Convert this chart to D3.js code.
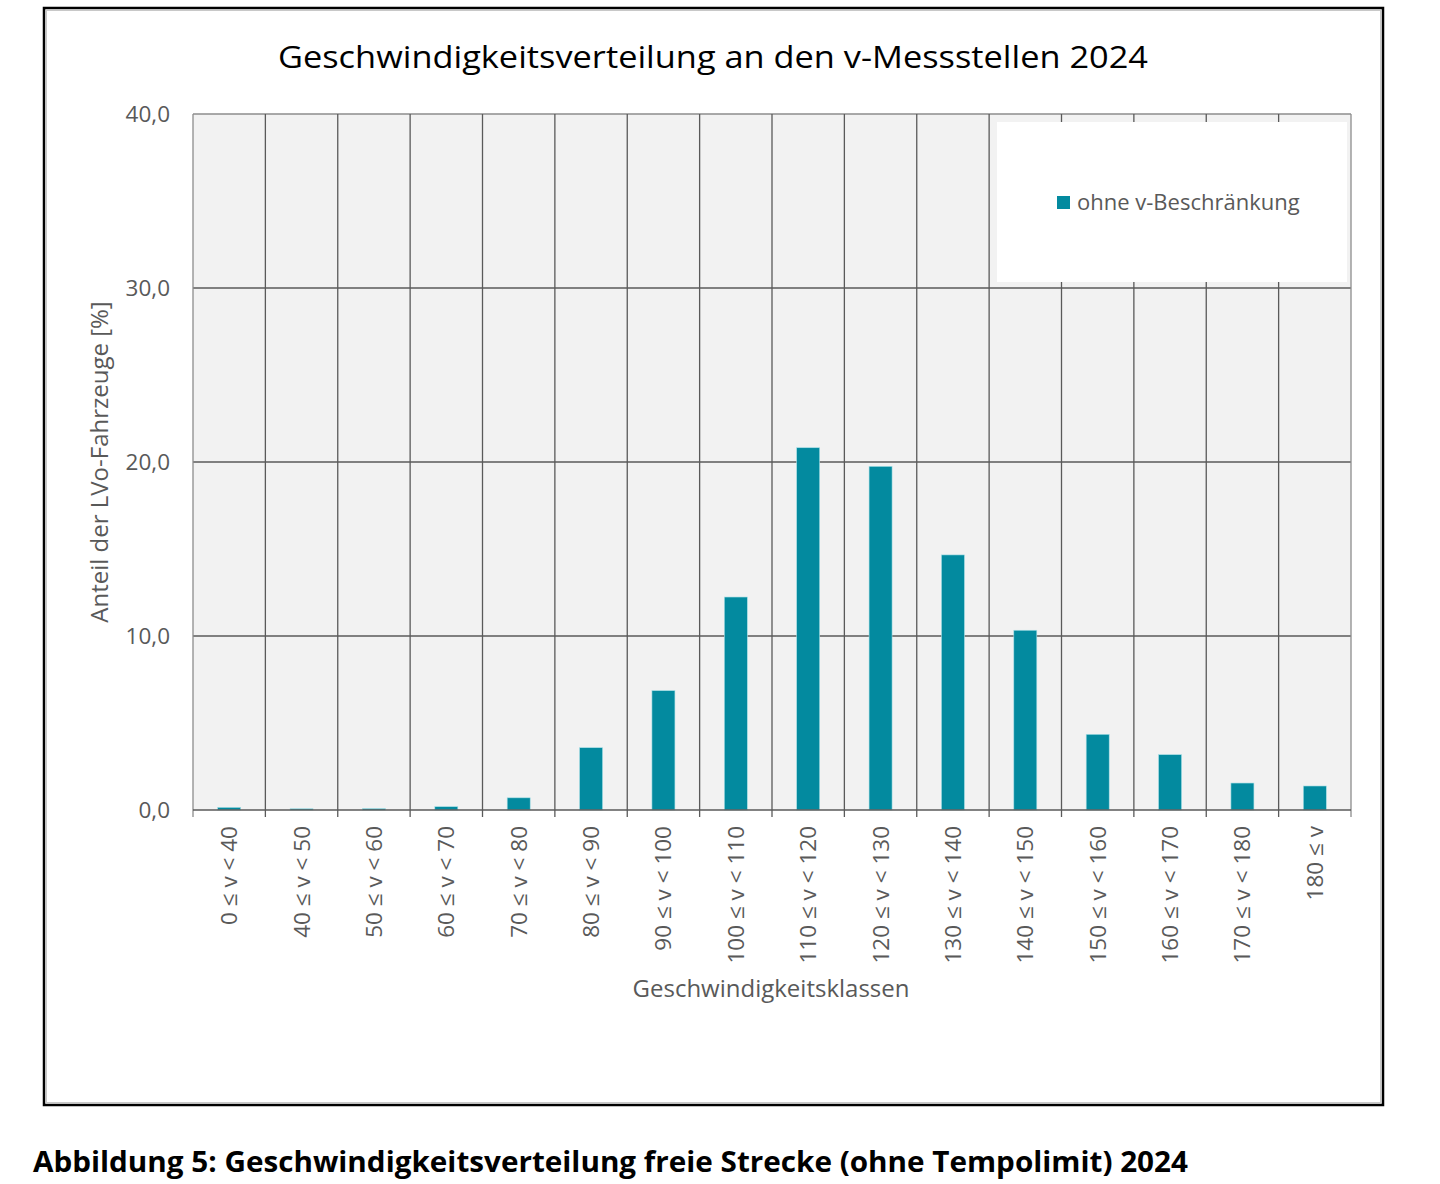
<!DOCTYPE html>
<html>
<head>
<meta charset="utf-8">
<script src="https://cdn.jsdelivr.net/npm/d3@7"></script>
<style>
  body { margin: 0; background: #fff; }
  svg { display: block; font-family: "Open Sans", "Noto Sans", sans-serif; }
</style>
</head>
<body>
<svg id="chart" width="1440" height="1184"></svg>
<script>
// classes of speed (x categories)
var categories = ["0 ≤ v < 40", "40 ≤ v < 50", "50 ≤ v < 60", "60 ≤ v < 70", "70 ≤ v < 80",
  "80 ≤ v < 90", "90 ≤ v < 100", "100 ≤ v < 110", "110 ≤ v < 120", "120 ≤ v < 130",
  "130 ≤ v < 140", "140 ≤ v < 150", "150 ≤ v < 160", "160 ≤ v < 170", "170 ≤ v < 180", "180 ≤ v"];
// share of cars in %
var shares = [0.15, 0.07, 0.08, 0.19, 0.7, 3.58, 6.86, 12.24, 20.82, 19.75, 14.66, 10.33, 4.35, 3.18, 1.55, 1.38];
var yTicks = [0, 10, 20, 30, 40];
var seriesName = "ohne v-Beschränkung";

var titleText = "Geschwindigkeitsverteilung an den v-Messstellen 2024";
var captionText = "Abbildung 5: Geschwindigkeitsverteilung freie Strecke (ohne Tempolimit) 2024";

var plot = {left: 193, right: 1351, top: 114, bottom: 810};
var barColor = "#038a9f",
    textColor = "#595959",
    gridColor = "#5a5a5a";

var svg = d3.select("#chart");

/* outer frame */
svg.append("rect")
  .attr("x", 44).attr("y", 8).attr("width", 1339).attr("height", 1097)
  .attr("fill", "#fff").attr("stroke", "#000").attr("stroke-width", 2.5);
svg.append("rect")
  .attr("x", 46.5).attr("y", 10.5).attr("width", 1334).attr("height", 1092)
  .attr("fill", "none").attr("stroke", "#c8c8c8").attr("stroke-width", 1);

var x = d3.scaleBand().domain(categories).range([plot.left, plot.right]).paddingInner(0).paddingOuter(0);
var y = d3.scaleLinear().domain([0, 40]).range([plot.bottom, plot.top]);

/* plot background */
svg.append("rect")
  .attr("x", plot.left).attr("y", plot.top)
  .attr("width", plot.right - plot.left).attr("height", plot.bottom - plot.top)
  .attr("fill", "#f2f2f2");

/* horizontal grid */
svg.append("g").selectAll("line").data(yTicks.slice(1)).join("line")
  .attr("x1", plot.left).attr("x2", plot.right)
  .attr("y1", function(d) { return y(d); }).attr("y2", function(d) { return y(d); })
  .attr("stroke", function(d) { return d == 40 ? "#8c8c8c" : gridColor; })
  .attr("stroke-width", 1.3);

/* vertical grid + ticks below axis */
var bounds = categories.map(function(c) { return x(c); }).concat([plot.right]);
svg.append("g").selectAll("line").data(bounds).join("line")
  .attr("x1", function(d) { return d; }).attr("x2", function(d) { return d; })
  .attr("y1", plot.top).attr("y2", plot.bottom + 7)
  .attr("stroke", function(d, i) { return (i == 0 || i == bounds.length - 1) ? "#8c8c8c" : gridColor; })
  .attr("stroke-width", 1.3);

/* legend box */
var lg = svg.append("g");
lg.append("rect").attr("x", 997).attr("y", 122).attr("width", 350).attr("height", 160).attr("fill", "#fff");
lg.append("rect").attr("x", 1057).attr("y", 196).attr("width", 13).attr("height", 13).attr("fill", barColor);
lg.append("text").attr("x", 1077).attr("y", 210)
  .attr("font-size", 22).attr("fill", textColor).text(seriesName);

/* bars */
var barW = 23;
svg.append("g").selectAll("rect").data(shares).join("rect")
  .attr("x", function(d, i) { return x(categories[i]) + x.bandwidth() / 2 - barW / 2; })
  .attr("y", function(d) { return y(d); })
  .attr("width", barW)
  .attr("height", function(d) { return plot.bottom - y(d); })
  .attr("fill", barColor)
  .attr("stroke", "#a8dfe6").attr("stroke-width", 0.6);

/* x axis line */
svg.append("line")
  .attr("x1", plot.left).attr("x2", plot.right)
  .attr("y1", plot.bottom).attr("y2", plot.bottom)
  .attr("stroke", gridColor).attr("stroke-width", 1.5);

/* y tick labels */
svg.append("g").selectAll("text").data(yTicks).join("text")
  .attr("x", 170).attr("y", function(d) { return y(d) + 8; })
  .attr("text-anchor", "end").attr("font-size", 22.5).attr("fill", textColor)
  .text(function(d) { return d3.format(".1f")(d).replace(".", ","); });

/* x tick labels, rotated */
svg.append("g").selectAll("text").data(categories).join("text")
  .attr("transform", function(d) { return "translate(" + (x(d) + x.bandwidth() / 2 + 8) + "," + 826 + ") rotate(-90)"; })
  .attr("text-anchor", "end").attr("font-size", 22.5).attr("fill", textColor)
  .text(function(d) { return d; });

/* axis titles */
svg.append("text")
  .attr("transform", "translate(108,462) rotate(-90)")
  .attr("text-anchor", "middle").attr("font-size", 24).attr("fill", textColor)
  .text("Anteil der LVo-Fahrzeuge [%]");
svg.append("text")
  .attr("x", 771).attr("y", 997)
  .attr("text-anchor", "middle").attr("font-size", 24).attr("fill", textColor)
  .text("Geschwindigkeitsklassen");

/* chart title */
svg.append("text")
  .attr("x", 713).attr("y", 68)
  .attr("text-anchor", "middle").attr("font-size", 31).attr("fill", "#000")
  .attr("textLength", 870).attr("lengthAdjust", "spacingAndGlyphs")
  .text(titleText);

/* caption below the frame */
svg.append("text")
  .attr("x", 33).attr("y", 1172)
  .attr("font-size", 29).attr("font-weight", "bold").attr("fill", "#000")
  .attr("textLength", 1155).attr("lengthAdjust", "spacingAndGlyphs")
  .text(captionText);
</script>
</body>
</html>
